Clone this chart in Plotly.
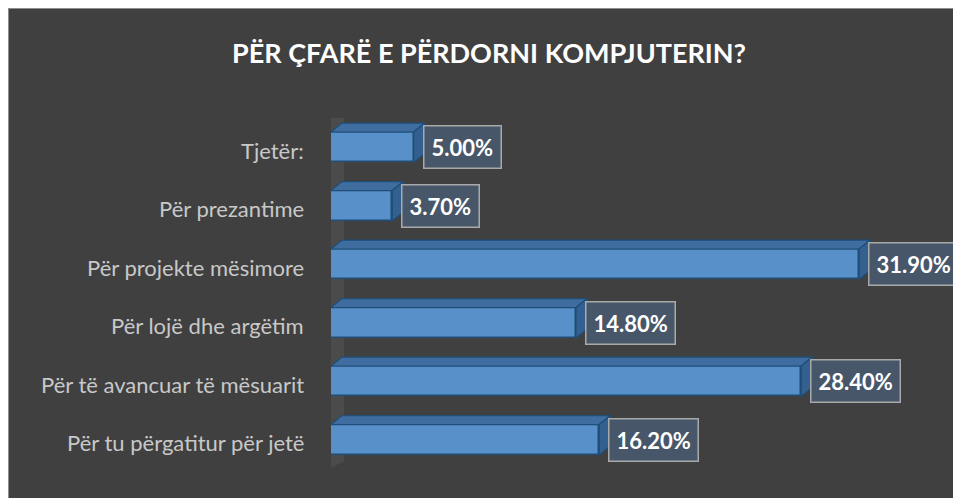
import plotly.graph_objects as go

# ---- data ----
categories = ["Për tu përgatitur për jetë", "Për të avancuar të mësuarit", "Për lojë dhe argëtim",
              "Për projekte mësimore", "Për prezantime", "Tjetër:"]
values = [16.20, 28.40, 14.80, 31.90, 3.70, 5.00]
value_labels = ["16.20%", "28.40%", "14.80%", "31.90%", "3.70%", "5.00%"]
title_text = "PËR ÇFARË E PËRDORNI KOMPJUTERIN?"

# ---- layout geometry (page has an 8px body margin) ----
OFF = 8
W, H = 961, 498
ML = 331 - OFF
MT = 118 - OFF
MB = H - (469 - OFF)
XMAX = 36.0
MR = W - (927 - OFF)
PW, PH = W - ML - MR, H - MT - MB
px_per_x = PW / XMAX
px_per_y = PH / 6.0
BAR_W = 0.52
DX = 11 / px_per_x      # 3D depth in data units
DY = 9 / px_per_y

FRONT = "#5890c9"
TOP = "#3f6d9f"
SIDE = "#34608f"
EDGE = "#1f4e79"

pos = list(range(len(categories)))

fig = go.Figure()
fig.add_trace(go.Bar(
    x=values, y=pos, orientation="h", width=BAR_W,
    marker=dict(color=FRONT, line=dict(color=EDGE, width=1.5)),
    hoverinfo="skip", showlegend=False,
))

shapes = []
def pxx(p):
    return (p - ML) / PW
def pyy(p):
    return (H - MB - p) / PH
# chart frame border
shapes.append(dict(type="rect", xref="paper", yref="paper", x0=pxx(0), x1=pxx(W + 3), y0=pyy(0), y1=pyy(H + 3),
                   fillcolor="rgba(0,0,0,0)", line=dict(color="#8c8c8c", width=2), layer="below"))
# back wall
wl, wr = -4 / px_per_x, -4 / px_per_x + DX + 6 / px_per_x
shapes.append(dict(type="path", xref="x", yref="y", layer="below",
                   path=f"M {wl},-0.52 L {wl},5.48 L {wr},{5.48 + DY + 0.02} L {wr},{-0.52 + DY} Z",
                   fillcolor="rgba(255,255,255,0.06)", line=dict(width=0)))

for p, v in zip(pos, values):
    yt = p + BAR_W / 2
    yb = p - BAR_W / 2
    shapes.append(dict(type="path", xref="x", yref="y", layer="above",
                       path=f"M 0,{yt} L {v},{yt} L {v + DX},{yt + DY} L {DX},{yt + DY} Z",
                       fillcolor=TOP, line=dict(color=EDGE, width=1.2)))
    shapes.append(dict(type="path", xref="x", yref="y", layer="above",
                       path=f"M {v},{yb} L {v},{yt} L {v + DX},{yt + DY} L {v + DX},{yb + DY} Z",
                       fillcolor=SIDE, line=dict(color=EDGE, width=1.2)))

annotations = []
for p, v, t in zip(pos, values, value_labels):
    annotations.append(dict(
        x=v, y=p, xref="x", yref="y", text=f"<b>{t}</b>", showarrow=False,
        xanchor="left", yanchor="middle", xshift=9,
        font=dict(family="Lato, sans-serif", size=22, color="white"),
        bgcolor="rgba(72,88,108,0.95)", bordercolor="#a9a9a9", borderwidth=1.5, borderpad=7,
    ))
# category labels
for p, c in zip(pos, categories):
    annotations.append(dict(
        x=0, y=p, xref="x", yref="y", text=c, showarrow=False,
        xanchor="right", yanchor="middle", xshift=-25, yshift=-3,
        font=dict(family="Lato, sans-serif", size=22, color="#c8c8c8"),
    ))

fig.update_layout(
    width=W, height=H,
    margin=dict(l=ML, r=MR, t=MT, b=MB),
    paper_bgcolor="#404040",
    plot_bgcolor="rgba(0,0,0,0)",
    title=dict(text=f"<b>{title_text}</b>", x=(489 - OFF) / W, xanchor="center", y=1 - (54 - OFF) / H,
               yanchor="middle",
               font=dict(family="Lato, sans-serif", size=27, color="white")),
    xaxis=dict(range=[0, XMAX], visible=False, fixedrange=True),
    yaxis=dict(range=[-0.5, 5.5], tickvals=pos, showticklabels=False, showgrid=False, zeroline=False,
               showline=False, ticks="", fixedrange=True),
    shapes=shapes,
    annotations=annotations,
    bargap=0,
)

fig.write_html("out.html")
